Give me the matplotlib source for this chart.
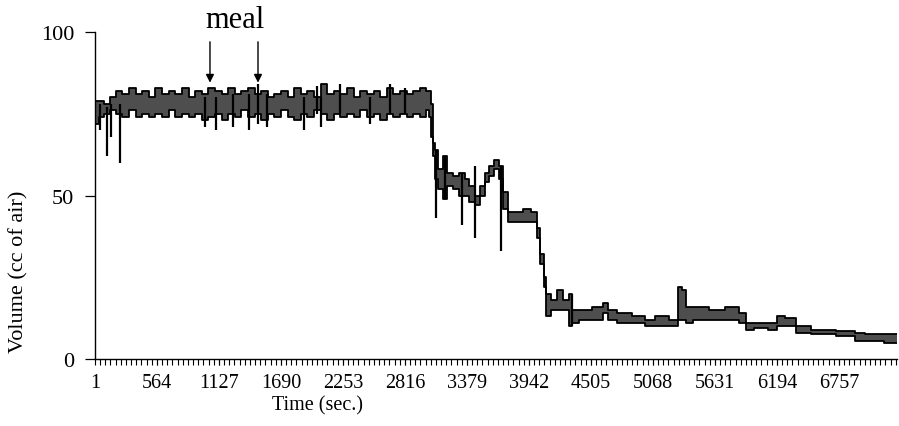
import matplotlib
matplotlib.use('Agg')
import matplotlib.pyplot as plt
from matplotlib.ticker import FixedLocator, MultipleLocator

plt.rcParams['font.family'] = ['Liberation Serif', 'DejaVu Serif']

# time (sec.) of the band samples
t_band = [10, 60, 110, 160, 220, 280, 340, 400, 460, 520, 580, 640, 700, 760,
          820, 880, 940, 1000, 1060, 1120, 1180, 1240, 1300, 1360, 1420, 1480,
          1540, 1600, 1660, 1720, 1780, 1840, 1900, 1960, 2020, 2080, 2140,
          2200, 2260, 2320, 2380, 2440, 2500, 2560, 2620, 2680, 2740, 2800,
          2860, 2920, 2980, 3030,
          3043, 3060, 3075, 3097, 3140, 3179, 3220, 3280, 3334, 3380, 3420,
          3479, 3520, 3560, 3600, 3651, 3680, 3724, 3769, 3850, 3920, 3996,
          4024, 4060, 4087, 4114, 4160, 4223, 4280, 4332, 4341, 4450, 4586,
          4640, 4677, 4800, 4950, 5041, 5132, 5286, 5304, 5359, 5368, 5500,
          5650, 5800, 5903, 5921, 6050, 6175, 6203, 6330, 6400, 6600, 6857,
          6950, 7038, 7283]
# upper edge of the band (cc of air)
hi_band = [79, 79, 78, 80, 82, 81, 83, 81, 82, 80, 83, 81, 82, 81, 83, 80, 82,
           81, 83, 82, 81, 83, 81, 82, 83, 81, 82, 80, 81, 82, 80, 83, 81, 82,
           80, 84, 81, 82, 81, 83, 80, 82, 81, 82, 80, 83, 81, 82, 81, 82, 83,
           82,
           82, 78, 66, 64, 58, 62, 57, 56, 57, 55, 53, 50, 53, 57, 59, 61, 59,
           51, 45, 45, 46, 45, 40, 32, 25, 20, 18, 21, 18, 20, 15, 15, 16, 17,
           15, 14, 13, 12, 13, 12, 22, 21, 16, 16, 15, 16, 14, 11, 11, 11, 13,
           12.5, 10, 9, 8.5, 8, 7.5, 7.5]
# lower edge of the band
lo_band = [72, 74, 75, 76, 75, 74, 76, 74, 75, 74, 75, 74, 76, 74, 75, 74, 75,
           73, 74, 75, 73, 75, 74, 76, 74, 75, 73, 75, 74, 76, 74, 73, 75, 74,
           76, 75, 73, 75, 74, 75, 74, 76, 74, 75, 73, 75, 74, 75, 74, 75, 74,
           76,
           74, 68, 62, 55, 52, 49, 53, 52, 50, 50, 48, 47, 50, 54, 56, 58, 55,
           46, 42, 42, 42, 42, 37, 29, 22, 13, 15, 15, 15, 10, 11, 12, 12, 14,
           12, 11, 11, 10, 10, 10, 12, 12, 11, 12, 12, 12, 11, 9, 9.5, 9, 10,
           10, 8, 7.5, 7, 5.5, 5.5, 5]

# narrow spikes: time, bottom, top
spike_t = [50, 110, 150, 228, 1000, 1100, 1250, 1400, 1480, 1560, 1900, 2020,
           2050, 2230, 2500, 2680, 2820, 3097, 3179, 3334, 3452, 3688, 4332]
spike_lo = [70, 62, 68, 60, 71, 70, 71, 70, 72, 71, 70, 75, 71, 75, 72, 75,
            75, 43, 49, 41, 37, 33, 10]
spike_hi = [78, 77, 78, 78, 80, 80, 81, 81, 84, 81, 80, 83.5, 80, 84, 80, 84,
            83, 64, 62, 57, 59, 59, 20]

x_ticks = [1, 564, 1127, 1690, 2253, 2816, 3379, 3942, 4505, 5068, 5631, 6194,
           6757]
y_ticks = [0, 50, 100]
meal_t = [1045, 1481]

fig = plt.figure(figsize=(8.99, 4.27), dpi=100)
ax = fig.add_axes([95 / 899, 1 - 360 / 427, (897 - 95) / 899, (360 - 33) / 427])

ax.fill_between(t_band, lo_band, hi_band, step='mid', facecolor='#4e4e4e',
                edgecolor='none')
ax.step(t_band, hi_band, where='mid', color='black', lw=1.3)
ax.step(t_band, lo_band, where='mid', color='black', lw=1.3)
ax.vlines(spike_t, spike_lo, spike_hi, color='black', lw=1.6)

ax.set_xlim(1, 7283)
ax.set_ylim(0, 100)
for s in ['top', 'right']:
    ax.spines[s].set_visible(False)
ax.spines['left'].set_linewidth(1.0)
ax.spines['bottom'].set_linewidth(1.0)

ax.xaxis.set_major_locator(FixedLocator(x_ticks))
ax.set_xticklabels([str(v) for v in x_ticks], fontsize=14.5)
ax.xaxis.set_minor_locator(MultipleLocator(563 / 12))
ax.tick_params(axis='x', which='both', direction='out', length=4, width=0.8,
               pad=6)
ax.set_yticks(y_ticks)
ax.set_yticklabels([str(v) for v in y_ticks], fontsize=16)
ax.tick_params(axis='y', direction='out', length=7, width=0.9, pad=8)

fig.text(318 / 899, 1 - 406 / 427, 'Time (sec.)', fontsize=14.5,
         ha='center', va='center')
fig.text(19 / 899, 1 - 272 / 427, 'Volume (cc of air)', fontsize=16,
         rotation=90, ha='center', va='center')

ax.text(1272, 103.8, 'meal', fontsize=22, ha='center', va='center',
        clip_on=False)
for m in meal_t:
    ax.annotate('', xy=(m, 84.5), xytext=(m, 97),
                arrowprops=dict(arrowstyle='-|>', color='black', lw=1.0,
                                mutation_scale=12, shrinkA=0, shrinkB=0))

fig.savefig('out.png', dpi=100)
